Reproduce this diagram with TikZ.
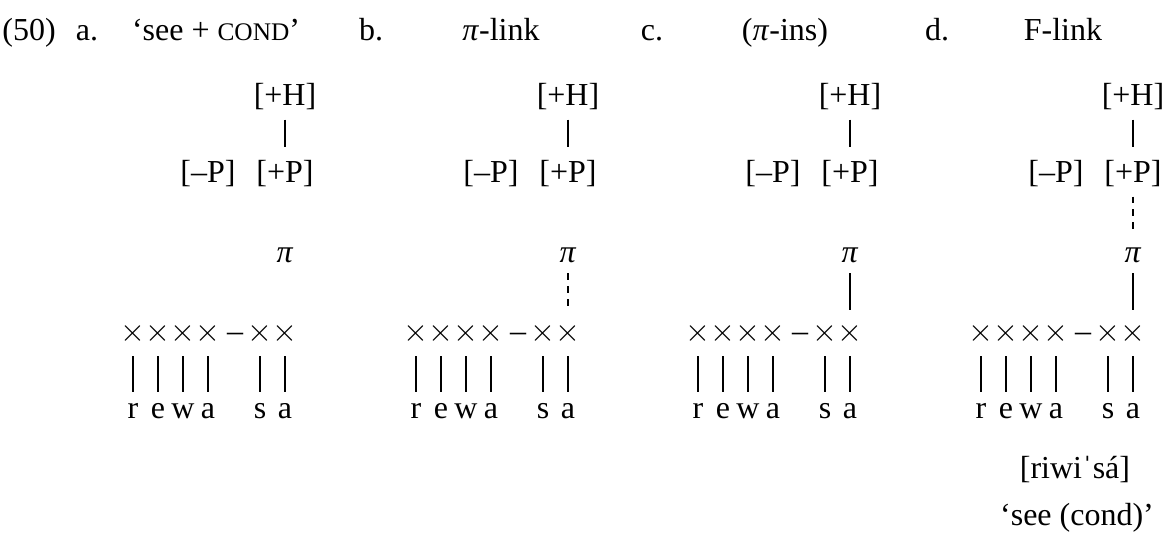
\documentclass[tikz,border=0pt,12pt]{standalone}
\usepackage{fontspec}
\setmainfont{Liberation Serif}
\tikzset{
    feat/.style={inner sep=0pt, anchor=base, text height=12.75pt, text depth=5.25pt},
    tone/.style={inner sep=0pt, anchor=base, text height=10.1pt, text depth=4.1pt},
    slot/.style={inner sep=0pt, text height=0.5em, text depth=0pt, minimum height=16.9pt},
    seg/.style={inner sep=0pt, anchor=base, text height=9.4pt, text depth=0pt},
    txt/.style={inner sep=0pt, anchor=base},
    assoc/.style={line width=1.1pt},
    linkdash/.style={line width=1.1pt, dash pattern=on 2.6pt off 2.2pt}
}

\begin{document}
\begin{tikzpicture}[x=0.375pt, y=-0.375pt]
    \useasboundingbox (0,0) rectangle (1170,544);
    % Kopfzeile
    \node[txt] (num) at (29,40) {(50)};
    \node[txt] (la) at (87,40) {a.};
    \node[txt] (ta) at (216,40) {‘see + {\fontsize{9.5}{10}\selectfont COND}’};
    \node[txt] (lb) at (371,40) {b.};
    \node[txt] (tb) at (501,40) {\textit{π}-link};
    \node[txt] (lc) at (652,40) {c.};
    \node[txt] (tc) at (785,40) {(\textit{π}-ins)};
    \node[txt] (ld) at (937,40) {d.};
    \node[txt] (td) at (1063,40) {F-link};

    \foreach \p/\dx in {a/0, b/283, c/565, d/848} {
        \begin{scope}[shift={(\dx,0)}]
            \node[feat] (H\p) at (285,105) {[+H]};
            \node[feat] (P\p) at (285,182) {[+P]};
            \node[feat] (M\p) at (208,182) {[–P]};
            \draw[assoc] (H\p) -- (P\p);
            \node[tone] (pi\p) at (285,262) {\textit{π}};
            % Skelett und Segmente
            \node[slot] (dash\p) at (235,333) {\makebox[0.4em]{–}};
            \foreach \i/\xx/\sg in {1/133/r, 2/158/e, 3/183/w, 4/208/a, 5/260/s, 6/285/a} {
                \node[slot] (x\p\i) at (\xx,333) {\makebox[0.5em]{$\times$}};
                \node[seg] (s\p\i) at (\xx,418) {\sg};
                \draw[assoc] (x\p\i) -- (s\p\i);
            }
        \end{scope}
    }

    % Verknuepfungen
    \draw[linkdash] (pib) -- (xb6);
    \draw[assoc] (pic) -- (xc6);
    \draw[linkdash] (Pd) -- (pid);
    \draw[assoc] (pid) -- (xd6);

    \node[txt] (form) at (1075,478) {[riwiˈsá]};
    \node[txt] (gloss) at (1077,525) {‘see (cond)’};
\end{tikzpicture}
\end{document}
